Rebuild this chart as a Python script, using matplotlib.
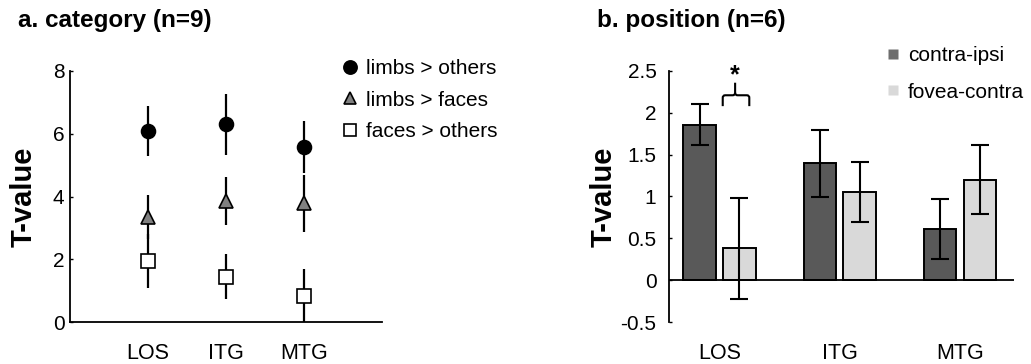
import numpy as np
import matplotlib
matplotlib.use("Agg")
import matplotlib.pyplot as plt
from matplotlib.lines import Line2D
from matplotlib.path import Path
from matplotlib.patches import PathPatch

plt.rcParams['font.family'] = ['Liberation Sans', 'DejaVu Sans']

# regions of interest
regions = ['LOS', 'ITG', 'MTG']

# a. category contrasts (n=9): mean T and error
limbs_others = [6.1, 6.3, 5.58]
limbs_others_err = [0.8, 0.97, 0.83]
limbs_faces = [3.35, 3.85, 3.78]
limbs_faces_err = [0.7, 0.77, 0.9]
faces_others = [1.94, 1.44, 0.84]
faces_others_err = [0.87, 0.72, 0.85]

# b. position contrasts (n=6)
contra_ipsi = [1.86, 1.40, 0.61]
contra_ipsi_err = [0.25, 0.40, 0.36]
fovea_contra = [0.38, 1.05, 1.20]
fovea_contra_err = [0.60, 0.36, 0.41]

DARK = '#595959'
LIGHT = '#d9d9d9'

fig = plt.figure(figsize=(10.31, 3.64), dpi=100)
W, H = 1031, 364

def px_axes(l, t, r, b):
    return fig.add_axes([l / W, 1 - b / H, (r - l) / W, (b - t) / H])

# ---------------- panel a ----------------
ax1 = px_axes(70, 71, 382, 322)
x = np.arange(1, len(regions) + 1)
series = [
    (limbs_others, limbs_others_err, 'o', 'black', 'limbs > others', 10),
    (limbs_faces, limbs_faces_err, '^', '#808080', 'limbs > faces', 9.5),
    (faces_others, faces_others_err, 's', 'white', 'faces > others', 9.5),
]
handles = []
for vals, errs, mk, fc, lab, ms in series:
    ax1.errorbar(x, vals, yerr=errs, fmt='none', ecolor='black',
                 elinewidth=1.6, capsize=0, zorder=2)
    ln, = ax1.plot(x, vals, linestyle='none', marker=mk, markersize=ms,
                   markerfacecolor=fc, markeredgecolor='black',
                   markeredgewidth=1.2, zorder=3, clip_on=False, label=lab)
    handles.append(ln)

ax1.set_xlim(0, 4)
ax1.set_ylim(0, 8)
ax1.set_yticks([0, 2, 4, 6, 8])
ax1.set_xticks(x)
ax1.set_xticklabels(regions)
for s in ['top', 'right']:
    ax1.spines[s].set_visible(False)
for s in ['left', 'bottom']:
    ax1.spines[s].set_linewidth(1.3)
ax1.tick_params(axis='y', direction='in', length=2.5, width=1, labelsize=15, pad=4)
ax1.tick_params(axis='x', length=0, labelsize=15.5, pad=15)

fig.legend(handles=[Line2D([], [], linestyle='none', marker=h.get_marker(),
                           markersize=h.get_markersize() * 0.95,
                           markerfacecolor=h.get_markerfacecolor(),
                           markeredgecolor='black', markeredgewidth=1.2)
                    for h in handles],
           labels=[h.get_label() for h in handles],
           loc='upper left', bbox_to_anchor=(342 / W, 1 - 59 / H),
           frameon=False, fontsize=15, handlelength=0.8,
           handletextpad=0.35, labelspacing=0.6, borderaxespad=0,
           borderpad=0)

fig.text(18 / W, 1 - 21 / H, 'a. category (n=9)', fontsize=17.5,
         fontweight='bold', ha='left', va='center')
fig.text(24 / W, 1 - 197 / H, 'T-value', fontsize=21, fontweight='bold',
         rotation=90, ha='center', va='center')

# ---------------- panel b ----------------
ax2 = px_axes(669, 71, 1014, 322)
offset = 0.165
width = 0.27
ax2.bar(x - offset, contra_ipsi, width, color=DARK, edgecolor='black',
        linewidth=1.4, zorder=2)
ax2.bar(x + offset, fovea_contra, width, color=LIGHT, edgecolor='black',
        linewidth=1.4, zorder=2)
ax2.errorbar(x - offset, contra_ipsi, yerr=contra_ipsi_err, fmt='none',
             ecolor='black', elinewidth=1.5, capsize=6.5, capthick=1.5, zorder=3)
ax2.errorbar(x + offset, fovea_contra, yerr=fovea_contra_err, fmt='none',
             ecolor='black', elinewidth=1.5, capsize=6.5, capthick=1.5, zorder=3)
ax2.axhline(0, color='black', linewidth=1.3, zorder=4)

ax2.set_xlim(0.58, 3.45)
ax2.set_ylim(-0.5, 2.5)
ax2.set_yticks([-0.5, 0, 0.5, 1, 1.5, 2, 2.5])
ax2.set_yticklabels(['-0.5', '0', '0.5', '1', '1.5', '2', '2.5'])
ax2.set_xticks(x)
ax2.set_xticklabels(regions)
for s in ['top', 'right', 'bottom']:
    ax2.spines[s].set_visible(False)
ax2.spines['left'].set_linewidth(1.3)
ax2.tick_params(axis='y', direction='in', length=2.5, width=1, labelsize=15, pad=9)
ax2.tick_params(axis='x', length=0, labelsize=15.5, pad=15)

# significance brace over LOS fovea-contra
bx0, bx1, bc = 1.027, 1.248, 1.13
yb, yt, ytip = 2.08, 2.21, 2.36
r = 0.02
verts = [(bx0, yb), (bx0, yt - 0.03), (bx0, yt), (bx0 + r, yt),
         (bc - r, yt), (bc, yt), (bc, yt + 0.03), (bc, ytip)]
codes = [Path.MOVETO, Path.LINETO, Path.CURVE3, Path.CURVE3,
         Path.LINETO, Path.CURVE3, Path.CURVE3, Path.LINETO]
verts2 = [(bx1, yb), (bx1, yt - 0.03), (bx1, yt), (bx1 - r, yt),
          (bc + r, yt), (bc, yt), (bc, yt + 0.03)]
codes2 = [Path.MOVETO, Path.LINETO, Path.CURVE3, Path.CURVE3,
          Path.LINETO, Path.CURVE3, Path.CURVE3]
for v, c in [(verts, codes), (verts2, codes2)]:
    ax2.add_patch(PathPatch(Path(v, c), facecolor='none', edgecolor='black',
                            linewidth=1.5, clip_on=False, zorder=5))
ax2.text(bc, 2.45, '*', fontsize=18, fontweight='bold', ha='center',
         va='center', clip_on=False)

leg2_handles = [Line2D([], [], linestyle='none', marker='s', markersize=7.5,
                       markerfacecolor=c, markeredgecolor='none')
                for c in ['#6e6e6e', LIGHT]]
fig.legend(handles=leg2_handles, labels=['contra-ipsi', 'fovea-contra'],
           loc='upper left', bbox_to_anchor=(885 / W, 1 - 46 / H),
           frameon=False, fontsize=15, handlelength=0.75,
           handletextpad=0.35, labelspacing=0.85, borderaxespad=0, borderpad=0)

fig.text(597 / W, 1 - 21 / H, 'b. position (n=6)', fontsize=17.5,
         fontweight='bold', ha='left', va='center')
fig.text(604 / W, 1 - 197 / H, 'T-value', fontsize=21, fontweight='bold',
         rotation=90, ha='center', va='center')

fig.savefig('out.png', dpi=100)
